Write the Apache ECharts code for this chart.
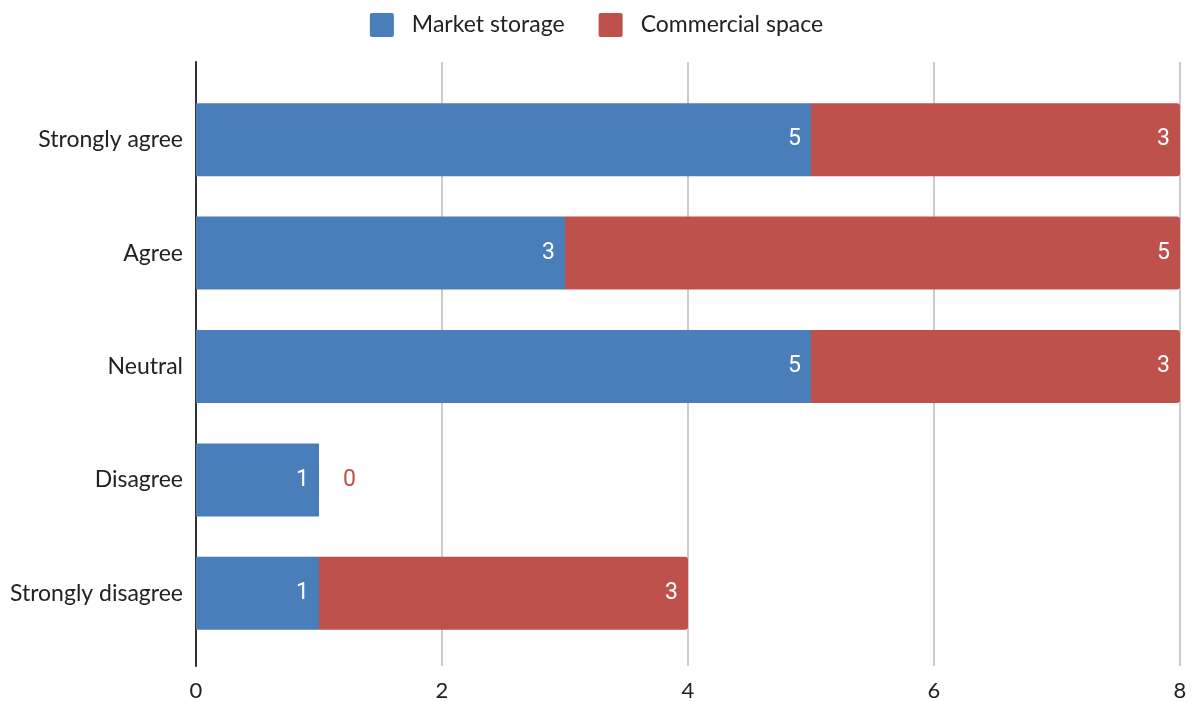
<!DOCTYPE html>
<html>
<head>
<meta charset="utf-8">
<script src="https://cdn.jsdelivr.net/npm/echarts@6/dist/echarts.min.js"></script>
<style>
  html, body { margin: 0; padding: 0; background: #fff; }
  #chart { width: 1193px; height: 702px; }
</style>
</head>
<body>
<div id="chart"></div>
<script>
// Survey responses, top to bottom
const categories = ['Strongly agree', 'Agree', 'Neutral', 'Disagree', 'Strongly disagree'];
const marketStorage = [5, 3, 5, 1, 1];
const commercialSpace = [3, 5, 3, 0, 3];
const xTicks = [0, 2, 4, 6, 8];

const BLUE = '#4a7ebb';
const RED = '#be514b';
const FONT = 'Lato, "Open Sans", sans-serif';
const SQUARE = 'path://M2,0H22Q24,0 24,2V22Q24,24 22,24H2Q0,24 0,22V2Q0,0 2,0Z';

const chart = echarts.init(document.getElementById('chart'));

const commercialData = commercialSpace.map(v => v === 0
  ? { value: v, label: { position: 'right', distance: 24, color: RED } }
  : v);

const valueLabel = {
  show: true, position: 'insideRight', distance: 10,
  color: '#fff', fontSize: 23, fontFamily: 'Roboto, sans-serif'
};

chart.setOption({
  animation: false,
  legend: {
    top: 8,
    left: 'center',
    itemWidth: 24,
    itemHeight: 24,
    itemGap: 34,
    textStyle: { fontFamily: FONT, fontSize: 23, color: '#222', padding: [0, 0, 0, 13] },
    data: [
      { name: 'Market storage', icon: SQUARE },
      { name: 'Commercial space', icon: SQUARE }
    ]
  },
  grid: [
    // frame with value gridlines and tick labels
    { left: 196, right: 13, top: 62, bottom: 35 },
    // bars
    { left: 196, right: 13, top: 83, bottom: 52 }
  ],
  xAxis: [
    {
      gridIndex: 0, type: 'value', min: xTicks[0], max: xTicks[xTicks.length - 1], interval: 2,
      axisLine: { show: false }, axisTick: { show: false },
      splitLine: { lineStyle: { color: '#cccccc', width: 2 } },
      axisLabel: { fontFamily: FONT, fontSize: 22, color: '#222', margin: 14 }
    },
    {
      gridIndex: 1, type: 'value', min: xTicks[0], max: xTicks[xTicks.length - 1], interval: 2,
      show: false
    }
  ],
  yAxis: [
    {
      gridIndex: 0, type: 'category', data: categories, inverse: true,
      axisLine: { show: true, lineStyle: { color: '#333', width: 2 } },
      axisTick: { show: false }, axisLabel: { show: false }, splitLine: { show: false }
    },
    {
      gridIndex: 1, type: 'category', data: categories, inverse: true,
      axisLine: { show: false }, axisTick: { show: false },
      axisLabel: { fontFamily: FONT, fontSize: 23, color: '#222', margin: 13 }
    }
  ],
  series: [
    {
      name: 'Market storage', type: 'bar', stack: 'total',
      xAxisIndex: 1, yAxisIndex: 1, barWidth: 73,
      itemStyle: { color: BLUE },
      label: valueLabel,
      data: marketStorage
    },
    {
      name: 'Commercial space', type: 'bar', stack: 'total',
      xAxisIndex: 1, yAxisIndex: 1, barWidth: 73,
      itemStyle: { color: RED, borderRadius: [0, 3, 3, 0] },
      label: valueLabel,
      data: commercialData
    }
  ]
});
</script>
</body>
</html>
